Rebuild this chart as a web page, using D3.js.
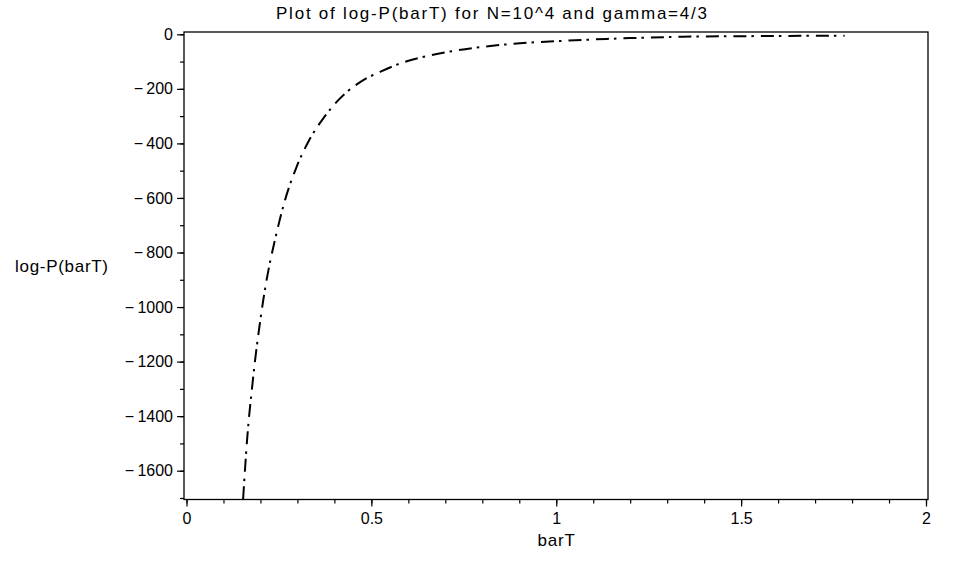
<!DOCTYPE html>
<html>
<head>
<meta charset="utf-8">
<script src="https://cdn.jsdelivr.net/npm/d3@7"></script>
<style>
  body { margin: 0; background: #fff; }
  svg { display: block; font-family: "Liberation Sans", Arial, sans-serif; }
</style>
</head>
<body>
<div id="chart"></div>
<script>
// Courbe : log-P(barT), N=10^4, gamma=4/3
const barT = [0.153, 0.1645, 0.179, 0.2077, 0.2467, 0.2664, 0.2981, 0.3295, 0.37, 0.4152,
              0.4782, 0.5234, 0.5775, 0.6497, 0.7309, 0.7939, 0.9021, 1.0192, 1.1366, 1.1996,
              1.343, 1.55, 1.78];
const logP = [-1705, -1476, -1274, -974, -711, -608, -485, -394, -308, -235,
              -168, -138, -107, -80, -59, -47, -33, -24, -17, -14,
              -9, -6.5, -5];

const xTicks = [0, 0.5, 1, 1.5, 2];
const yTicks = [0, -200, -400, -600, -800, -1000, -1200, -1400, -1600];

const title = "Plot of log-P(barT) for N=10^4 and gamma=4/3";
const xLabel = "barT";
const yLabel = "log-P(barT)";

const width = 954, height = 567;
const frame = { left: 184, right: 928, top: 32, bottom: 499.5 };

const svg = d3.select("#chart").append("svg")
  .attr("width", width)
  .attr("height", height);

const x = d3.scaleLinear().domain([0, 2]).range([186.5, 926]);
const y = d3.scaleLinear().domain([0, -1600]).range([34.3, 470.7]);

// Cadre
svg.append("rect")
  .attr("x", frame.left)
  .attr("y", frame.top)
  .attr("width", frame.right - frame.left)
  .attr("height", frame.bottom - frame.top)
  .attr("fill", "none")
  .attr("stroke", "#000")
  .attr("stroke-width", 1.3);

// Graduations secondaires
const xMinor = d3.range(0, 2.0001, 0.1);
const yMinor = d3.range(0, -1700.01, -100);

svg.append("g")
  .attr("transform", `translate(0,${frame.bottom})`)
  .call(d3.axisBottom(x).tickValues(xMinor).tickSize(4).tickFormat("").tickSizeOuter(0))
  .call(g => g.select(".domain").remove());

svg.append("g")
  .attr("transform", `translate(${frame.left},0)`)
  .call(d3.axisLeft(y).tickValues(yMinor).tickSize(4).tickFormat("").tickSizeOuter(0))
  .call(g => g.select(".domain").remove());

// Axe X
const gx = svg.append("g")
  .attr("transform", `translate(0,${frame.bottom})`)
  .call(d3.axisBottom(x).tickValues(xTicks).tickSize(7).tickPadding(6).tickSizeOuter(0)
    .tickFormat(d => String(d)));
gx.select(".domain").remove();
gx.selectAll("text").style("font-size", "16px").attr("fill", "#000");

// Axe Y
const gy = svg.append("g")
  .attr("transform", `translate(${frame.left},0)`)
  .call(d3.axisLeft(y).tickValues(yTicks).tickSize(7).tickPadding(4).tickSizeOuter(0)
    .tickFormat(d => d < 0 ? "\u2212\u2009" + Math.abs(d) : String(d)));
gy.select(".domain").remove();
gy.selectAll("text").style("font-size", "16px").attr("fill", "#000");

svg.selectAll(".tick line").attr("stroke", "#000").attr("stroke-width", 1.2);

// Clip
svg.append("clipPath").attr("id", "clip")
  .append("rect")
  .attr("x", frame.left)
  .attr("y", frame.top)
  .attr("width", frame.right - frame.left)
  .attr("height", frame.bottom - frame.top);

const pts = barT.map((t, i) => [t, logP[i]]);
const line = d3.line()
  .x(d => x(d[0]))
  .y(d => y(d[1]))
  .curve(d3.curveMonotoneX);

svg.append("path")
  .datum(pts)
  .attr("clip-path", "url(#clip)")
  .attr("d", line)
  .attr("fill", "none")
  .attr("stroke", "#000")
  .attr("stroke-width", 2)
  .attr("stroke-dasharray", "13,5,2.5,7");

// Textes
svg.append("text")
  .attr("x", 276)
  .attr("y", 19)
  .attr("textLength", 431)
  .attr("lengthAdjust", "spacing")
  .style("font-size", "17px")
  .text(title);

svg.append("text")
  .attr("x", 537.5)
  .attr("y", 546)
  .attr("textLength", 37.5)
  .attr("lengthAdjust", "spacing")
  .style("font-size", "17px")
  .text(xLabel);

svg.append("text")
  .attr("x", 15)
  .attr("y", 272)
  .attr("textLength", 93)
  .attr("lengthAdjust", "spacing")
  .style("font-size", "17px")
  .text(yLabel);
</script>
</body>
</html>
